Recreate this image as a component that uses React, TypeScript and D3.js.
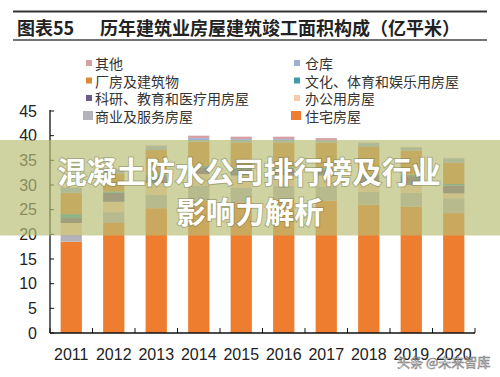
import React from "react";
import * as d3 from "d3";

const years = ["2011", "2012", "2013", "2014", "2015", "2016", "2017", "2018", "2019", "2020"];
const residential = [18.5, 22.3, 25.3, 26.8, 26.5, 27.0, 26.8, 26.0, 25.6, 24.3];
const commercial = [1.4, 2.2, 2.7, 3.0, 3.0, 2.8, 2.9, 2.6, 2.8, 3.0];
const office = [2.4, 2.1, 2.4, 2.4, 2.4, 2.2, 2.2, 1.8, 1.6, 1.0];
const research = [1.0, 1.8, 1.4, 1.4, 1.4, 1.3, 1.3, 1.4, 1.8, 1.6];
const culture = [0.8, 0.3, 0.3, 0.3, 0.3, 0.3, 0.3, 0.3, 0.3, 0.3];
const factory = [4.3, 3.6, 5.0, 4.9, 5.0, 5.0, 5.1, 5.6, 4.9, 4.3];
const warehouse = [1.0, 0.8, 0.8, 0.7, 0.7, 0.7, 0.5, 0.8, 0.6, 0.9];
const other = [0.1, 0.1, 0.1, 0.5, 0.5, 0.5, 0.4, 0.1, 0.1, 0.1];

const seriesKeys = ["住宅房屋", "商业及服务房屋", "办公用房屋", "科研、教育和医疗用房屋", "文化、体育和娱乐用房屋", "厂房及建筑物", "仓库", "其他"];
const seriesValues = [residential, commercial, office, research, culture, factory, warehouse, other];
const seriesColors = ["#EE7D2F", "#B3B2BA", "#F7CBAA", "#6C5C8E", "#3F9BAD", "#DC8A38", "#9AB1D3", "#D7A0A4"];

const yTicks = [0, 5, 10, 15, 20, 25, 30, 35, 40, 45];

// legend layout: [seriesIndex, column, row]
const legendItems: [number, number, number][] = [
  [7, 0, 0], [6, 1, 0],
  [5, 0, 1], [4, 1, 1],
  [3, 0, 2], [2, 1, 2],
  [1, 0, 3], [0, 1, 3],
];

const titleLeft = "图表55";
const titleRight = "历年建筑业房屋建筑竣工面积构成（亿平米）";
const overlayLine1 = "混凝土防水公司排行榜及行业";
const overlayLine2 = "影响力解析";
const watermark = "头条 @未来智库";

export default function App() {
  const W = 500, H = 377;
  const x0 = 50, x1 = 475, yBase = 333, yTop = 111;
  const x = d3.scaleBand<string>().domain(years).range([x0, x1]).paddingInner(0.5).paddingOuter(0.25);
  const y = d3.scaleLinear().domain([0, 45]).range([yBase, yTop]);

  const table = years.map((yr, i) => {
    const row: any = { year: yr };
    seriesKeys.forEach((k, j) => (row[k] = seriesValues[j][i]));
    return row;
  });
  const stacked = d3.stack<any>().keys(seriesKeys)(table);
  const step = x.step();
  const boundaries = d3.range(years.length + 1).map((i) => x0 + i * step);

  const cjk = "'Noto Sans CJK SC', 'Noto Sans', sans-serif";
  const latin = "'Liberation Sans', Arial, sans-serif";
  const legendRowY = [63, 80.5, 98, 115.5];

  return (
    <div style={{ position: "absolute", left: 0, top: 0, width: W, height: H, background: "#fff" }}>
      <svg width={W} height={H} viewBox={`0 0 ${W} ${H}`} style={{ display: "block" }}>
        <rect x={0} y={0} width={W} height={H} fill="#fff" />
        {/* title */}
        <line x1={13} x2={487} y1={11.5} y2={11.5} stroke="#333" strokeWidth={2} />
        <line x1={13} x2={487} y1={40} y2={40} stroke="#444" strokeWidth={1.3} />
        <text x={17} y={27} fontFamily={cjk} fontWeight={700} fontSize={18} fill="#222" dominantBaseline="central">{titleLeft}</text>
        <text x={100} y={27} fontFamily={cjk} fontWeight={700} fontSize={18} fill="#222" dominantBaseline="central">{titleRight}</text>

        {/* legend */}
        {legendItems.map(([si, col, row]) => {
          const big = si <= 1;
          const mx = col === 0 ? 90 : 298;
          const cy = legendRowY[row];
          const tx = col === 0 ? 95 : 305;
          return (
            <g key={si}>
              {big ? (
                <rect x={mx - 7} y={cy - 4.5} width={10} height={9} fill={seriesColors[si]} />
              ) : (
                <rect x={mx - 4} y={cy - 3} width={6} height={6} fill={seriesColors[si]} />
              )}
              <text x={tx} y={cy} fontFamily={cjk} fontSize={14} fill="#333" dominantBaseline="central">{seriesKeys[si]}</text>
            </g>
          );
        })}

        {/* bars */}
        {stacked.map((layer, li) => (
          <g key={layer.key} fill={seriesColors[li]}>
            {layer.map((d: any, i: number) => (
              <rect key={i} x={x(years[i])} width={x.bandwidth()} y={y(d[1])} height={Math.max(0, y(d[0]) - y(d[1]))} />
            ))}
          </g>
        ))}

        {/* axes */}
        <line x1={x0} x2={x0} y1={yTop - 1} y2={yBase} stroke="#111" strokeWidth={1.3} />
        <line x1={x0} x2={x1} y1={yBase} y2={yBase} stroke="#111" strokeWidth={1.3} />
        {yTicks.map((t) => (
          <g key={t}>
            <line x1={x0} x2={x0 + 4} y1={y(t)} y2={y(t)} stroke="#111" strokeWidth={1} />
            <text x={37} y={y(t)} textAnchor="end" dominantBaseline="central" fontFamily={latin} fontSize={16} fill="#222">{t}</text>
          </g>
        ))}
        {boundaries.map((bx, i) => (
          <line key={i} x1={bx} x2={bx} y1={yBase} y2={yBase - 5} stroke="#111" strokeWidth={1} />
        ))}
        {years.map((yr) => (
          <text key={yr} x={(x(yr) as number) + x.bandwidth() / 2} y={354} textAnchor="middle" dominantBaseline="central" fontFamily={latin} fontSize={16} fill="#222">{yr}</text>
        ))}

        {/* overlay band */}
        <rect x={0} y={140} width={W} height={95.5} fill="rgb(184,190,118)" opacity={0.68} />
        <g fontFamily={cjk} fontWeight={700} fontSize={29.5} fill="#fff" textAnchor="middle" dominantBaseline="central"
           stroke="rgba(90,90,60,0.35)" strokeWidth={2} style={{ paintOrder: "stroke" } as any}>
          <text x={249} y={170}>{overlayLine1}</text>
          <text x={250} y={210}>{overlayLine2}</text>
        </g>

        {/* watermark */}
        <text x={397} y={361} fontFamily={cjk} fontSize={13} fill="#fff" stroke="#666" strokeWidth={0.6} opacity={0.85} dominantBaseline="central">{watermark}</text>
      </svg>
    </div>
  );
}
